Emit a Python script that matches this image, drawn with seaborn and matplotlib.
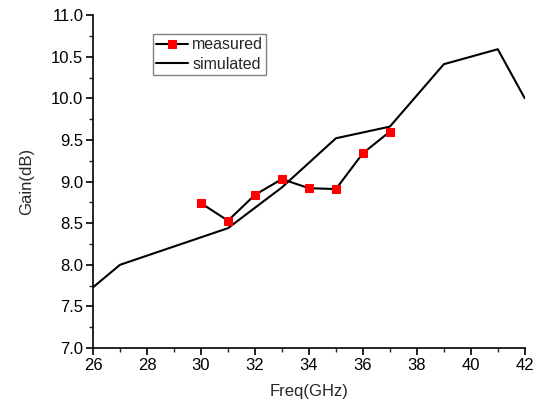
import pandas as pd
import matplotlib
matplotlib.use("Agg")
import matplotlib.pyplot as plt
import seaborn as sns
from matplotlib.ticker import MultipleLocator, FormatStrFormatter

# === Data ===
sim_freq = [26, 27, 31, 33, 35, 37, 39, 41, 42]
sim_gain = [7.73, 8.00, 8.44, 8.93, 9.52, 9.66, 10.41, 10.59, 10.00]

meas_freq = [30, 31, 32, 33, 34, 35, 36, 37]
meas_gain = [8.74, 8.53, 8.84, 9.03, 8.92, 8.91, 9.34, 9.60]

sim_df = pd.DataFrame({"Freq": sim_freq, "Gain": sim_gain})
meas_df = pd.DataFrame({"Freq": meas_freq, "Gain": meas_gain})

# === Style ===
sns.set_style("ticks")
plt.rcParams["font.family"] = ["Liberation Sans", "DejaVu Sans"]
plt.rcParams["font.size"] = 12

fig = plt.figure(figsize=(5.41, 4.08), dpi=100)
ax = fig.add_axes([0.172, 0.147, 0.798, 0.816])

sns.lineplot(data=meas_df, x="Freq", y="Gain", ax=ax, color="black", linewidth=1.5,
             marker="s", markersize=5.5, markerfacecolor="red", markeredgecolor="red",
             label="measured", zorder=3)
sns.lineplot(data=sim_df, x="Freq", y="Gain", ax=ax, color="black", linewidth=1.5,
             label="simulated", zorder=2)

ax.set_xlim(26, 42)
ax.set_ylim(7.0, 11.0)
ax.xaxis.set_major_locator(MultipleLocator(2))
ax.xaxis.set_minor_locator(MultipleLocator(1))
ax.yaxis.set_major_locator(MultipleLocator(0.5))
ax.yaxis.set_minor_locator(MultipleLocator(0.25))
ax.yaxis.set_major_formatter(FormatStrFormatter("%.1f"))
ax.tick_params(which="major", direction="out", length=5, width=1.2, labelsize=12,
               colors="black", pad=2)
ax.tick_params(which="minor", direction="out", length=3, width=1.0)

for side in ["top", "right"]:
    ax.spines[side].set_visible(False)
for side in ["left", "bottom"]:
    ax.spines[side].set_linewidth(1.2)
    ax.spines[side].set_color("black")

ax.set_xlabel("Freq(GHz)", fontsize=12, labelpad=8)
ax.set_ylabel("Gain(dB)", fontsize=12, labelpad=12)

leg = ax.legend(loc="upper left", bbox_to_anchor=(0.139, 0.943), fancybox=False,
                framealpha=1, edgecolor="gray", fontsize=11.5, handlelength=2.0,
                borderpad=0.2, labelspacing=0.3, handletextpad=0.25,
                borderaxespad=0)
leg.get_frame().set_linewidth(1.0)

plt.savefig("out.png", dpi=100)
plt.close()
